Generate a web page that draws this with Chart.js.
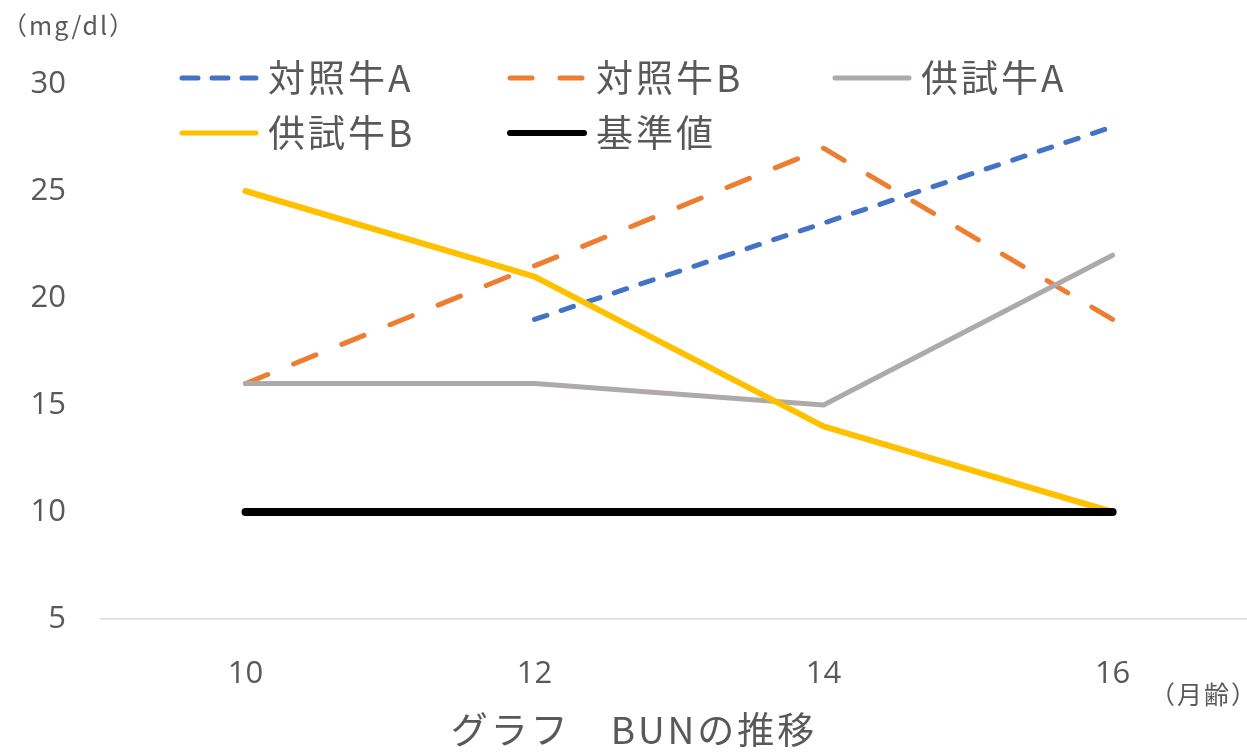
<!DOCTYPE html>
<html>
<head>
<meta charset="utf-8">
<script src="https://cdn.jsdelivr.net/npm/chart.js@4/dist/chart.umd.min.js"></script>
<style>
html,body{margin:0;padding:0;background:#fff;overflow:hidden;}
#wrap{position:relative;width:1247px;height:754px;}
</style>
</head>
<body>
<div id="wrap"><canvas id="c" width="1247" height="754"></canvas></div>
<script>
const ages = [10, 12, 14, 16];
const seriesNames = ['対照牛A', '対照牛B', '供試牛A', '供試牛B', '基準値'];
const controlA = [null, 19, 23.5, 28];
const controlB = [16, 21.5, 27, 19];
const testA = [16, 16, 15, 22];
const testB = [25, 21, 14, 10];
const baseline = [10, 10, 10, 10];
const yTicks = [5, 10, 15, 20, 25, 30];
const yUnit = '（mg/dl）';
const xUnit = '（月齢）';
const chartTitle = 'グラフ　BUNの推移';

const FONT = "'Noto Sans CJK JP', 'Noto Sans', sans-serif";
const NUMFONT = "'Open Sans', 'Noto Sans', sans-serif";
const TXT = '#595959';

const styles = [
  {color:'#4472C4', width:5, dash:[13,15], legendDash:[16,14]},
  {color:'#ED7D31', width:5, dash:[24,28], legendDash:[22,28]},
  {color:'#AEAAAA', width:5, dash:[], legendDash:[]},
  {color:'#FFC000', width:6, dash:[], legendDash:[]},
  {color:'#000000', width:8, dash:[], legendDash:[]}
];
const values = [controlA, controlB, testA, testB, baseline];

function pts(arr){ return ages.map((a,i)=>({x:a, y:arr[i]})); }

const datasets = values.map((v,i)=>({
  label: seriesNames[i],
  data: pts(v),
  borderColor: styles[i].color,
  backgroundColor: styles[i].color,
  borderWidth: styles[i].width,
  borderDash: styles[i].dash,
  borderCapStyle: 'round',
  borderJoinStyle: 'round',
  pointRadius: 0,
  tension: 0,
  spanGaps: false,
  order: 5 - i
}));

const legendPos = [
  {x:180, y:78}, {x:508, y:78}, {x:833, y:78},
  {x:180, y:133}, {x:508, y:133}
];

const extras = {
  id: 'extras',
  afterDraw(chart){
    const ctx = chart.ctx;
    ctx.save();
    // legend
    seriesNames.forEach((name,i)=>{
      const p = legendPos[i];
      const s = styles[i];
      ctx.beginPath();
      ctx.strokeStyle = s.color;
      ctx.lineWidth = i===4 ? 6 : 5;
      ctx.lineCap = 'round';
      ctx.setLineDash(s.legendDash);
      ctx.moveTo(p.x + 2, p.y);
      ctx.lineTo(p.x + 76, p.y);
      ctx.stroke();
      ctx.setLineDash([]);
      ctx.fillStyle = TXT;
      ctx.font = '37px ' + FONT;
      ctx.letterSpacing = '3px';
      ctx.textBaseline = 'middle';
      ctx.textAlign = 'left';
      ctx.fillText(name, p.x + 88, p.y);
    });
    // unit labels
    ctx.fillStyle = TXT;
    ctx.font = '25px ' + FONT;
    ctx.letterSpacing = '2px';
    ctx.textBaseline = 'middle';
    ctx.textAlign = 'left';
    ctx.fillText(yUnit, 2, 25);
    ctx.fillText(xUnit, 1150, 694);
    // title
    ctx.font = '37px ' + FONT;
    ctx.letterSpacing = '3px';
    ctx.textAlign = 'center';
    ctx.fillText(chartTitle, 634, 730);
    ctx.restore();
  }
};

new Chart(document.getElementById('c'), {
  type: 'line',
  data: { datasets },
  options: {
    responsive: false,
    animation: false,
    layout: { padding: { top: 84, right: 0, left: 0, bottom: 0 } },
    plugins: { legend: { display: false }, tooltip: { enabled: false }, title: { display: false } },
    scales: {
      x: {
        type: 'linear',
        min: 9,
        max: 16.93,
        afterBuildTicks(axis){ axis.ticks = ages.map(v=>({value:v})); },
        afterFit(axis){ axis.height = 135; },
        grid: { display: false, drawTicks: false },
        border: { display: true, color: '#D9D9D9', width: 1.5 },
        ticks: { color: TXT, font: { size: 31, family: NUMFONT }, padding: 37, maxRotation: 0, autoSkip: false }
      },
      y: {
        min: 5,
        max: 30,
        afterBuildTicks(axis){ axis.ticks = yTicks.map(v=>({value:v})); },
        afterFit(axis){ axis.width = 101; },
        grid: { display: false, drawTicks: false },
        border: { display: false },
        ticks: { color: TXT, font: { size: 31, family: NUMFONT }, padding: 35 }
      }
    }
  },
  plugins: [extras]
});
</script>
</body>
</html>
